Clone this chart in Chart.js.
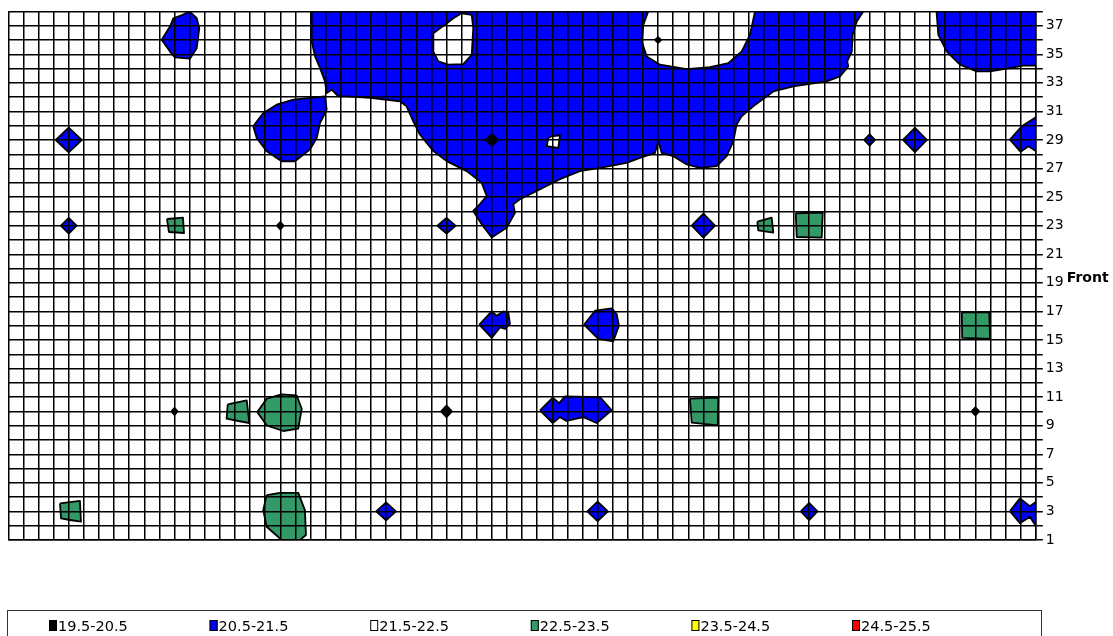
<!DOCTYPE html>
<html>
<head>
<meta charset="utf-8">
<script src="https://cdn.jsdelivr.net/npm/chart.js@4.4.1/dist/chart.umd.min.js"></script>
<style>
  html, body { margin: 0; padding: 0; background: #ffffff; }
  #wrap { width: 1113px; height: 636px; }
  canvas { display: block; }
</style>
</head>
<body>
<div id="wrap"><canvas id="chart" width="1113" height="636"></canvas></div>
<script>
// Temperature bands of the contour map
const bandLabels = ['19.5-20.5', '20.5-21.5', '21.5-22.5', '22.5-23.5', '23.5-24.5', '24.5-25.5'];
const bandColors = ['#000000', '#0000FF', '#FFFFFF', '#339966', '#FFFF00', '#FF0000'];

// Floor grid: columns 0..68 across, rows 1..38 towards the front
const colRange = [0, 68];
const rowRange = [1, 38];
const rowTickLabels = [1, 3, 5, 7, 9, 11, 13, 15, 17, 19, 21, 23, 25, 27, 29, 31, 33, 35, 37];
const sideTitle = 'Front';

// 20.5-21.5 band outlines, as [column, row] vertices
const blueMain = [[20.08,38],[20.08,35.89],[20.30,34.85],[20.63,34.03],[20.96,33.10],[21.07,32.28],[21.40,32.52],[21.84,32.05],[22.39,32.05],[23.94,31.94],[25.92,31.71],[26.36,31.36],[26.80,30.31],[27.24,29.38],[28.13,28.22],[29.01,27.52],[30.34,26.82],[31.33,26.00],[31.66,25.08],[31.10,24.38],[30.77,24.03],[31.33,23.10],[31.99,22.17],[32.98,22.86],[33.53,23.91],[33.42,24.50],[33.86,24.85],[34.74,25.31],[36.51,26.26],[37.83,26.82],[39.16,27.05],[40.92,27.40],[41.80,27.75],[42.80,28.10],[43.02,28.91],[43.24,28.10],[44.01,27.87],[44.90,27.29],[45.78,27.05],[46.88,27.17],[47.54,27.87],[47.98,28.91],[48.20,30.08],[48.53,30.66],[49.30,31.36],[50.63,32.40],[51.95,32.75],[54.16,33.10],[55.04,33.45],[55.59,34.15],[55.52,34.50],[55.82,35.19],[55.88,36.36],[56.15,37.29],[56.58,38],[49.42,38],[49.08,36.36],[48.53,35.19],[47.65,34.38],[46.44,34.10],[44.90,33.96],[43.13,34.27],[42.25,34.85],[41.92,35.89],[42.02,37.06],[42.35,38]];
const blueCorner = [[61.43,38],[61.55,36.36],[62.11,35.19],[62.98,34.27],[64.09,33.80],[64.97,33.80],[66.29,34.03],[67.17,34.20],[68,34.20],[68,38]];
const blueBackLeft = [[12.0,38],[11.54,37.76],[10.92,37.52],[10.70,36.94],[10.15,36.01],[10.70,35.19],[11.03,34.78],[12.02,34.69],[12.47,35.42],[12.64,36.82],[12.47,37.52]];
const blueLobe = [[16.21,29.96],[16.44,29.14],[17.10,28.21],[18.09,27.51],[18.97,27.51],[19.96,28.33],[20.41,29.14],[20.63,30.19],[21.07,31.13],[20.96,32.05],[19.96,31.94],[18.86,31.82],[17.76,31.47],[16.87,30.89]];
const blueEdge29 = [[66.29,29.03],[67.07,29.96],[68,30.59],[68,28.22],[67.51,28.56],[67.0,28.17]];
const blueEdge3 = [[66.29,3.02],[66.95,3.91],[67.61,3.37],[68,3.67],[68,1.98],[67.61,2.63],[66.95,2.17]];
const blueMid16a = [[31.17,16.07],[31.99,17.00],[32.32,16.70],[32.76,17.00],[33.09,16.93],[33.20,16.12],[32.87,15.77],[32.54,15.88],[31.99,15.15]];
const blueMid16b = [[38.10,16.07],[38.83,17.05],[39.93,17.21],[40.26,16.82],[40.41,16.00],[40.04,14.91],[39.04,15.08]];
const blueMid10 = [[35.19,10.07],[36.03,10.96],[36.46,10.58],[36.84,11.05],[39.16,11.00],[39.93,10.07],[38.94,9.19],[38.05,9.60],[36.95,9.33],[36.51,9.60],[36.03,9.19]];

// 21.5-22.5 islands inside the blue area
const whiteIslandA = [[28.57,36.82],[28.13,36.47],[28.13,35.19],[28.46,34.50],[29.12,34.27],[30.11,34.31],[30.67,34.96],[30.77,36.82],[30.67,37.76],[30.00,37.87],[29.45,37.52],[28.90,37.06]];
const whiteIslandB = [[35.74,29.14],[35.63,28.56],[36.40,28.45],[36.51,29.33],[35.96,29.26]];

// 22.5-23.5 band outlines
const greenA = [[3.42,3.56],[4.74,3.74],[4.81,2.28],[4.08,2.40],[3.49,2.51]];
const greenB = [[10.50,23.47],[11.56,23.57],[11.63,22.49],[10.63,22.56]];
const greenC = [[14.52,10.49],[15.78,10.77],[15.95,9.19],[15.22,9.33],[14.45,9.49]];
const greenD = [[16.48,9.95],[17.10,10.89],[18.09,11.19],[19.08,11.12],[19.42,10.19],[19.19,8.79],[18.20,8.63],[17.10,9.03]];
const greenE = [[17.10,4.14],[17.98,4.30],[19.19,4.30],[19.63,3.09],[19.70,1.35],[19.30,1],[18.09,1],[17.10,1.93],[16.87,3.09]];
const greenF = [[49.57,23.28],[50.52,23.56],[50.63,22.51],[49.63,22.68]];
const greenG = [[52.11,23.87],[53.90,23.91],[53.83,22.17],[52.18,22.21]];
const greenH = [[63.10,16.93],[64.92,16.93],[64.97,15.08],[63.13,15.15]];
const greenI = [[45.11,10.89],[46.99,10.96],[46.95,9.03],[45.23,9.21]];

// Single-point peaks: [column, row, reach across, reach along]
const bluePeaks = [[4,29,0.86,0.87],[4,23,0.52,0.55],[29,23,0.6,0.55],[46,23,0.77,0.84],[57,29,0.36,0.4],[60,29,0.79,0.85],[25,3,0.65,0.63],[39,3,0.68,0.68],[53,3,0.55,0.6]];
const blackPeaks = [[32,29,0.42,0.4],[43,36,0.2,0.2],[29,10,0.36,0.4],[11,10,0.2,0.25],[64,10,0.25,0.28],[18,23,0.22,0.25]];

const BLUE = 1, WHITE = 2, GREEN = 3, BLACK = 0;

function peakOutline(p) {
  const [c, r, dc, dr] = p;
  return [[c - dc, r], [c, r + dr], [c + dc, r], [c, r - dr]];
}

function band(outline, bandIndex, order) {
  const closed = outline.concat([outline[0]]);
  return {
    type: 'line',
    label: bandLabels[bandIndex],
    data: closed.map(([x, y]) => ({ x, y })),
    backgroundColor: bandColors[bandIndex],
    borderColor: '#000000',
    borderWidth: 1.8,
    borderJoinStyle: 'round',
    fill: 'shape',
    pointRadius: 0,
    pointHoverRadius: 0,
    tension: 0,
    order
  };
}

const datasets = [];
[blueMain, blueCorner, blueBackLeft, blueLobe, blueEdge29, blueEdge3, blueMid16a, blueMid16b, blueMid10]
  .forEach(o => datasets.push(band(o, BLUE, 4)));
[whiteIslandA, whiteIslandB].forEach(o => datasets.push(band(o, WHITE, 3)));
[greenA, greenB, greenC, greenD, greenE, greenF, greenG, greenH, greenI]
  .forEach(o => datasets.push(band(o, GREEN, 2)));
bluePeaks.forEach(p => datasets.push(band(peakOutline(p), BLUE, 2)));
blackPeaks.forEach(p => datasets.push(band(peakOutline(p), BLACK, 1)));

// Boxed key along the bottom, plus the side caption
const keyAndCaption = {
  id: 'keyAndCaption',
  afterDraw(chart) {
    const ctx = chart.ctx;
    const area = chart.chartArea;
    ctx.save();
    // caption beside the row axis
    ctx.font = 'bold 14px "DejaVu Sans"';
    ctx.fillStyle = '#000';
    ctx.textBaseline = 'alphabetic';
    ctx.textAlign = 'left';
    ctx.fillText(sideTitle, area.right + 31, chart.scales.y.getPixelForValue(19) - 1);

    // key frame
    ctx.strokeStyle = '#333';
    ctx.lineWidth = 1;
    ctx.strokeRect(7.5, 610.5, 1034, 40);
    ctx.font = '14.5px "DejaVu Sans"';
    const x0 = 49, step = 160.6, top = 620;
    bandLabels.forEach((lab, i) => {
      const x = x0 + i * step;
      ctx.fillStyle = bandColors[i];
      ctx.fillRect(x, top, 8, 11);
      ctx.strokeStyle = '#000';
      ctx.strokeRect(x + 0.5, top + 0.5, 7, 10);
      ctx.fillStyle = '#000';
      ctx.fillText(lab, x + 9, top + 11);
    });
    ctx.restore();
  }
};

new Chart(document.getElementById('chart'), {
  type: 'line',
  data: { datasets },
  options: {
    responsive: false,
    animation: false,
    events: [],
    layout: { padding: { left: 8.3, top: 9.8, right: 0, bottom: 96 } },
    plugins: { legend: { display: false }, tooltip: { enabled: false } },
    scales: {
      x: {
        type: 'linear',
        min: colRange[0],
        max: colRange[1],
        afterFit(scale) { scale.height = 0; },
        ticks: { display: false, stepSize: 1, maxTicksLimit: 200, autoSkip: false },
        grid: { color: '#000', lineWidth: 1.5, drawTicks: false, z: 1 },
        border: { display: true, color: '#000', width: 1.5, z: 1 }
      },
      y: {
        type: 'linear',
        position: 'right',
        min: rowRange[0],
        max: rowRange[1],
        afterFit(scale) { scale.width = 77.2; },
        ticks: {
          stepSize: 1,
          maxTicksLimit: 200,
          autoSkip: false,
          padding: 3,
          color: '#000',
          font: { family: '"DejaVu Sans"', size: 14 },
          callback: v => rowTickLabels.includes(v) ? String(v) : ''
        },
        grid: { color: '#000', lineWidth: 1.5, tickLength: 7, drawTicks: true, z: 1 },
        border: { display: true, color: '#000', width: 1.5, z: 1 }
      }
    }
  },
  plugins: [keyAndCaption]
});
</script>
</body>
</html>
